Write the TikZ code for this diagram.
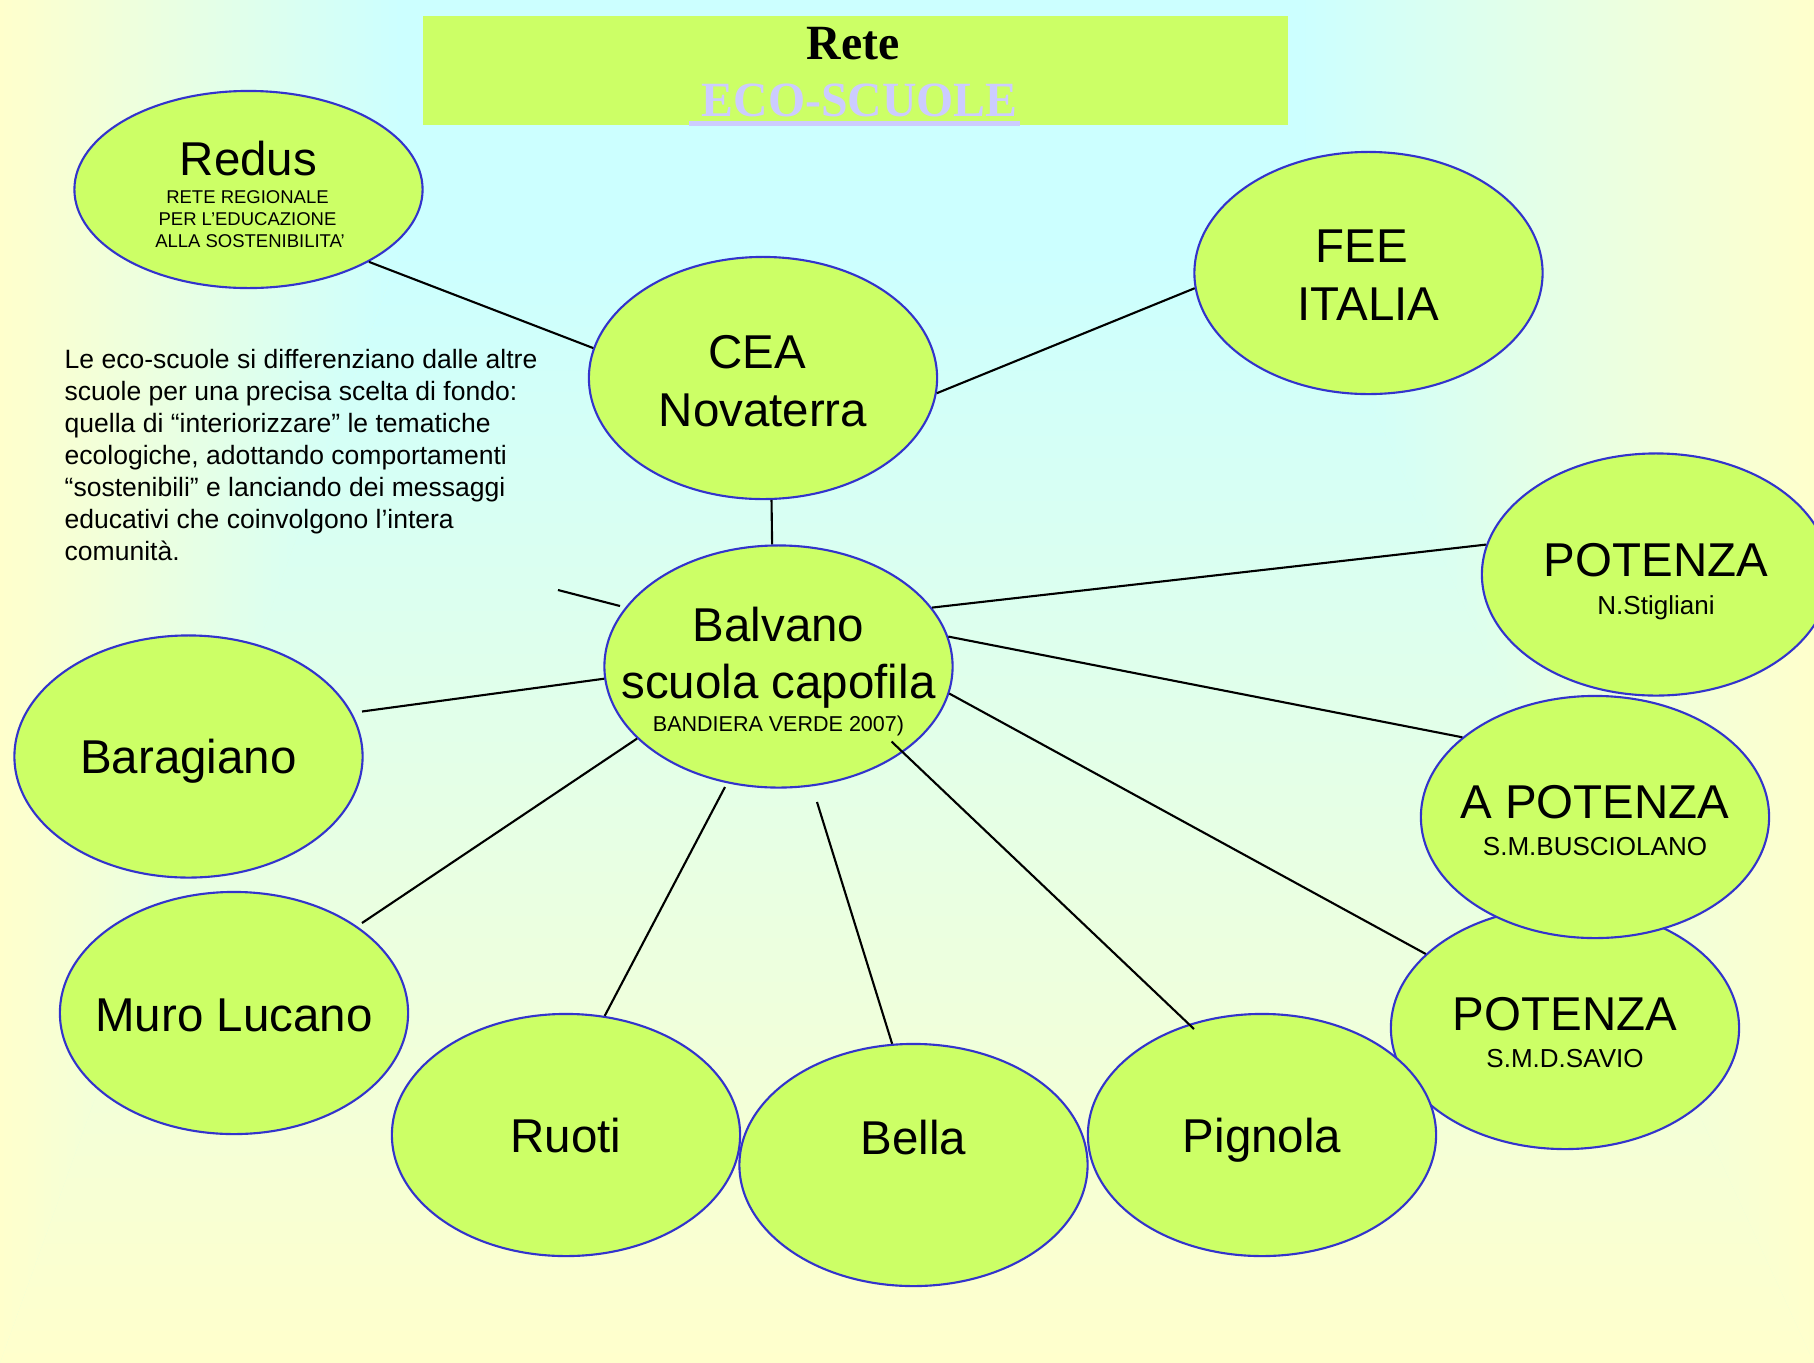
\documentclass[tikz,border=0pt]{standalone}
\usepackage{fontspec}
\setmainfont{Liberation Sans}
\newfontfamily\titlefont{Liberation Serif}
\usetikzlibrary{shapes.geometric,calc}
\definecolor{bgy}{HTML}{FFFFCC}
\definecolor{bgc}{HTML}{CCFFFF}
\definecolor{bgm}{HTML}{E5FFE5}
\definecolor{nodegreen}{HTML}{CCFF66}
\definecolor{nodeblue}{HTML}{3333CC}
\definecolor{lav}{HTML}{CCCCFF}
\begin{document}
\begin{tikzpicture}[x=0.01cm,y=-0.01cm,
  bubble/.style={ellipse, draw=nodeblue, fill=nodegreen, line width=0.6pt,
    minimum width=3.48cm, minimum height=2.42cm, inner sep=0pt},
  big/.style={font=\fontsize{13.5}{16}\selectfont, anchor=base, inner sep=0pt},
  sub/.style={font=\fontsize{7.4}{9}\selectfont, anchor=base, inner sep=0pt},
  tiny/.style={font=\fontsize{5.26}{6.2}\selectfont, anchor=base, inner sep=0pt},
  band/.style={font=\fontsize{6.12}{7.2}\selectfont, anchor=base, inner sep=0pt},
  link/.style={line width=0.6pt, black}]
% background
\useasboundingbox (0,0) rectangle (1814,1363);
\fill[bgm] (0,0) rectangle (1814,1363);
\fill[bgc] (399,0) rectangle (1301,251);
\begin{scope}
  \clip (0,0) -- (400,0) -- (400,250) -- (0,1363) -- cycle;
  \shade[left color=bgy, right color=bgc] (0,0) rectangle (400,1363);
\end{scope}
\begin{scope}
  \clip (1300,0) -- (1814,0) -- (1814,1363) -- (1300,250) -- cycle;
  \shade[left color=bgc, right color=bgy] (1300,0) rectangle (1814,1363);
\end{scope}
\begin{scope}
  \clip (400,250) -- (1300,250) -- (1814,1363) -- (0,1363) -- cycle;
  \shade[top color=bgc, bottom color=bgy] (0,250) rectangle (1814,1363);
\end{scope}
% title
\node[fill=nodegreen, minimum width=8.65cm, minimum height=1.09cm, inner sep=0pt] (titlebox) at (855.5,70.5) {};
\node[anchor=base, inner sep=0pt, font=\titlefont\bfseries\fontsize{14}{16}\selectfont] (rete) at (853,59.5) {\scalebox{0.97}[1]{Rete}};
\node[anchor=base, inner sep=0pt, text=lav, font=\titlefont\bfseries\fontsize{14}{16}\selectfont] (eco) at (859.7,116) {\scalebox{0.97}[1]{ECO-SCUOLE}};
\fill[lav] (689,121) rectangle (1020,125.5);
% ellipses
\node[bubble, minimum height=1.97cm] (redus) at (248.5,189.5) {};
\node[bubble] (cea) at (763,378) {};
\node[bubble] (fee) at (1368.5,273) {};
\node[bubble] (stigliani) at (1656,574.5) {};
\node[bubble] (balvano) at (778.5,666.5) {};
\node[bubble] (baragiano) at (188.5,756.5) {};
\node[bubble] (muro) at (234,1013) {};
\node[bubble] (ruoti) at (566,1135) {};
\node[bubble] (bella) at (913.5,1165) {};
\node[bubble] (savio) at (1565,1028) {};
\node[bubble] (pignola) at (1262,1135) {};
\node[bubble] (busciolano) at (1595,817) {};
% labels
\node[big] (redus-a) at ($(redus)+(0,-14.5)$) {Redus};
\node[tiny] (redus-b) at ($(redus)+(-1,13.8)$) {RETE REGIONALE};
\node[tiny] (redus-c) at ($(redus)+(-1,35.5)$) {PER L’EDUCAZIONE};
\node[tiny] (redus-d) at ($(redus)+(1.5,57.5)$) {ALLA SOSTENIBILITA’};
\node[big] (cea-a) at ($(cea)+(-6,-10)$) {CEA};
\node[big] (cea-b) at ($(cea)+(0,48)$) {Novaterra};
\node[big] (fee-a) at ($(fee)+(-7,-11)$) {FEE};
\node[big] (fee-b) at ($(fee)+(0,47)$) {ITALIA};
\node[big] (stigliani-a) at ($(stigliani)+(0,2)$) {POTENZA};
\node[sub] (stigliani-b) at ($(stigliani)+(0,39.5)$) {N.Stigliani};
\node[big] (busciolano-a) at ($(busciolano)+(0,1.5)$) {A POTENZA};
\node[sub] (busciolano-b) at ($(busciolano)+(0,38.7)$) {S.M.BUSCIOLANO};
\node[big] (savio-a) at ($(savio)+(0,2.7)$) {POTENZA};
\node[sub] (savio-b) at ($(savio)+(0,39.3)$) {S.M.D.SAVIO};
\node[big] (balvano-a) at ($(balvano)+(0,-24.8)$) {Balvano};
\node[big] (balvano-b) at ($(balvano)+(0,31.8)$) {scuola capofila};
\node[band] (balvano-c) at ($(balvano)+(0,65.2)$) {BANDIERA VERDE 2007)};
\node[big] (baragiano-a) at ($(baragiano)+(0,17)$) {Baragiano};
\node[big] (muro-a) at ($(muro)+(0,18)$) {Muro Lucano};
\node[big] (ruoti-a) at ($(ruoti)+(0,17.7)$) {Ruoti};
\node[big] (bella-a) at ($(bella)+(0,-11)$) {Bella};
\node[big] (pignola-a) at ($(pignola)+(0,17.7)$) {Pignola};
% paragraph
\node[anchor=north west, inner sep=0pt, align=left, font=\fontsize{7.54}{9.1}\selectfont] (desc) at (64,349)
 {Le eco-scuole si differenziano dalle altre\\
  scuole per una precisa scelta di fondo:\\
  quella di “interiorizzare” le tematiche\\
  ecologiche, adottando comportamenti\\
  “sostenibili” e lanciando dei messaggi\\
  educativi che coinvolgono l’intera\\
  comunità.};
% connectors
\draw[link] (redus.-31) -- (cea.170.5);
\draw[link] (cea.-5.3) -- (fee.-175.4);
\draw[link] (cea.-86.4) -- (balvano.93.7);
\coordinate (stubA) at (558,590);
\coordinate (stubB) at (620,606);
\draw[link] (stubA) -- (stubB);
\draw[link] (balvano.21.1) -- (stigliani.170.4);
\draw[link] (balvano.10) -- (busciolano.149.6);
\draw[link] (balvano.-9.9) -- (savio.152.5);
\draw[link] ($(balvano)+(113,75)$) -- ($(pignola)+(-68,-106)$);
\draw[link] ($(balvano)+(38.5,135.5)$) -- (bella.100.2);
\draw[link] ($(balvano)+(-53.5,120.5)$) -- (ruoti.72.9);
\draw[link] (balvano.207.8) -- ($(muro)+(128,-90)$);
\draw[link] (balvano.184.75) -- ($(baragiano)+(173.5,-45)$);
\end{tikzpicture}
\end{document}
